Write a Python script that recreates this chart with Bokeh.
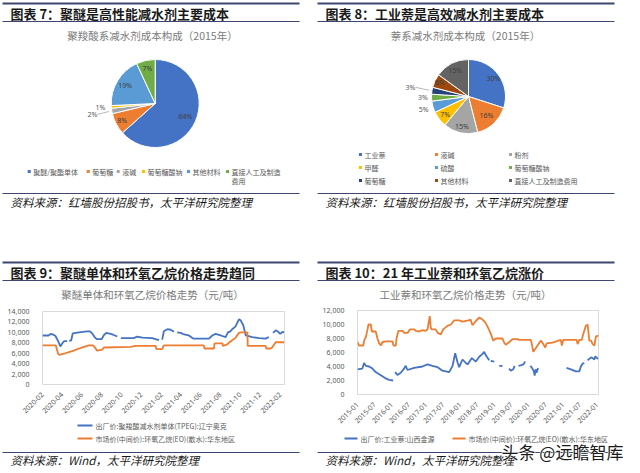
import numpy as np
import pandas as pd
from math import pi
from bokeh.plotting import figure
from bokeh.layouts import column, row
from bokeh.models import (Range1d, FixedTicker, DatetimeTickFormatter,
                          NumeralTickFormatter, ColumnDataSource)
from bokeh.core.properties import value
from bokeh.embed import file_html
from bokeh.resources import INLINE

# ---------------- data ----------------
q1_title = "图表 7：聚醚是高性能减水剂主要成本"
q1_chart_title = "聚羧酸系减水剂成本构成（2015年）"
q1_labels = ["聚醚/聚酯单体", "葡萄糖", "液碱", "葡萄糖酸钠", "其他材料", "直接人工及制造费用"]
q1_values = [64, 8, 2, 1, 19, 7]

q2_title = "图表 8：工业萘是高效减水剂主要成本"
q2_chart_title = "萘系减水剂成本构成（2015年）"
q2_labels = ["工业萘", "液碱", "粉剂", "甲醛", "硫酸", "葡萄糖酸钠", "葡萄糖", "其他材料", "直接人工及制造费用"]
q2_values = [30, 16, 15, 7, 5, 3, 3, 6, 15]

q3_title = "图表 9：聚醚单体和环氧乙烷价格走势趋同"
q3_chart_title = "聚醚单体和环氧乙烷价格走势（元/吨）"
q3_series_names = ["出厂价:聚羧酸减水剂单体(TPEG):辽宁奥克", "市场价(中间价):环氧乙烷(EO)(散水):华东地区"]
q3_tpeg_dates = ["2020-02-01", "2020-02-20", "2020-02-26", "2020-03-07", "2020-03-12", "2020-03-20",
                 "2020-03-27", "2020-04-01", "2020-04-07", "2020-04-17", "2020-04-20", "2020-04-23",
                 "2020-04-29", "2020-05-04", "2020-05-23", "2020-06-17", "2020-06-25", "2020-07-03",
                 "2020-07-11", "2020-07-18", "2020-08-01", "2020-08-08", "2020-08-15", "2020-08-28",
                 "2020-09-07", "2020-09-18", "2020-09-24", "2020-09-29", "2020-11-08", "2020-11-18",
                 "2020-12-04", "2021-01-03", "2021-01-24", "2021-01-29", "2021-02-03", "2021-02-08",
                 "2021-02-19", "2021-03-01", "2021-03-11", "2021-03-16", "2021-03-21", "2021-04-01",
                 "2021-04-11", "2021-04-26", "2021-05-07", "2021-05-12", "2021-06-27", "2021-07-07",
                 "2021-07-17", "2021-08-02", "2021-08-17", "2021-08-24", "2021-09-01", "2021-09-06",
                 "2021-09-16", "2021-09-27", "2021-10-02", "2021-10-10", "2021-10-16", "2021-10-18",
                 "2021-11-07", "2021-11-28", "2021-12-18", "2021-12-28", "2022-01-03", "2022-01-10",
                 "2022-01-18", "2022-01-26", "2022-02-01", "2022-02-08", "2022-02-13"]
q3_tpeg_values = [9400, 9400, 9700, 9500, 9300, 8300,
                  7300, 7800, 8300, 8300, None, 8400,
                  8400, 9800, 10000, 10200, 10200, 9800,
                  9000, 8700, 8700, 9500, 9900, 9700,
                  9500, 9200, None, 8900, 8900, 9200,
                  9000, 8900, 8500, None, 8600, 10200,
                  10600, 10500, 10100, None, 10000, 9900,
                  9600, 9400, 8900, 8800, 8800, 9400,
                  9700, 9400, 9100, 10000, 10200, 10600,
                  11100, 12500, 12300, 11400, 9900, 9400,
                  9100, 8900, 8800, 9100, None, 9900,
                  10400, 10100, 9700, 10100, 10000]
q3_eo_dates = ["2020-02-01", "2020-03-13", "2020-03-20", "2020-03-24", "2020-04-07", "2020-04-22",
               "2020-05-07", "2020-05-23", "2020-06-07", "2020-06-23", "2020-07-05", "2020-07-11",
               "2020-07-18", "2020-08-03", "2020-08-08", "2020-10-29", "2020-11-13", "2021-01-14",
               "2021-01-16", "2021-02-03", "2021-02-08", "2021-06-11", "2021-06-13", "2021-07-12",
               "2021-07-14", "2021-08-07", "2021-08-09", "2021-08-22", "2021-08-27", "2021-09-06",
               "2021-09-16", "2021-09-27", "2021-10-02", "2021-10-23", "2021-10-24", "2021-12-18",
               "2021-12-20", "2022-01-02", "2022-01-07", "2022-01-18", "2022-02-13"]
q3_eo_values = [7500, 7500, 5900, 5700, 5900, 6200,
                6500, 6900, 7200, 7500, 7500, 7100,
                6500, 6700, 7100, 7200, 7400, 7400,
                6800, 6800, 7500, 7500, 6900, 6900,
                7900, 7900, 7400, 7700, 8000, 8500,
                8900, 9900, 10000, 10000, 7400, 7400,
                6900, 6900, 7100, 8100, 8100]
q3_x_range = ["2020-02-01", "2022-02-14"]
q3_x_ticks = ["2020-02", "2020-04", "2020-06", "2020-08", "2020-10", "2020-12", "2021-02",
              "2021-04", "2021-06", "2021-08", "2021-10", "2021-12", "2022-02"]
q3_y_ticks = [0, 2000, 4000, 6000, 8000, 10000, 12000, 14000]

q4_title = "图表 10：21 年工业萘和环氧乙烷涨价"
q4_chart_title = "工业萘和环氧乙烷价格走势（元/吨）"
q4_series_names = ["出厂价:工业萘:山西金源", "市场价(中间价):环氧乙烷(EO)(散水):华东地区"]
q4_nap_dates = ["2015-01-01", "2015-02-22", "2015-03-12", "2015-03-30", "2015-05-05", "2015-06-09",
                "2015-07-14", "2015-08-20", "2015-09-24", "2015-10-29", "2015-12-04", "2016-01-16",
                "2016-01-28", "2016-02-06", "2016-03-02", "2016-04-06", "2016-05-12", "2016-05-29",
                "2016-06-17", "2016-08-27", "2016-11-24", "2017-01-16", "2017-03-10", "2017-05-04",
                "2017-06-26", "2017-09-05", "2017-10-11", "2017-11-08", "2017-12-03", "2017-12-21",
                "2018-01-25", "2018-03-02", "2018-03-20", "2018-05-05", "2018-06-16", "2018-07-23",
                "2018-08-27", "2018-09-14", "2018-10-01", "2018-11-06", "2018-11-15", "2018-11-22",
                "2018-12-30", "2019-01-15", "2019-02-21", "2019-03-28", "2019-04-20", "2019-06-05",
                "2019-06-25", "2019-07-20", "2019-08-05", "2019-08-25", "2019-09-15", "2019-10-15",
                "2019-11-05", "2019-11-25", "2019-12-20", "2020-01-20", "2020-02-10", "2020-02-25",
                "2020-03-05", "2020-03-15", "2020-03-25", "2020-04-10", "2020-04-20", "2021-02-08",
                "2021-03-26", "2021-05-19", "2021-06-24", "2021-07-11", "2021-07-29", "2021-08-16",
                "2021-09-01", "2021-09-21", "2021-10-27", "2021-11-14", "2021-12-02", "2021-12-12",
                "2021-12-30", "2022-01-14"]
q4_nap_values = [3600, 3700, 4500, 4100, 4000, 3700,
                 3200, 2900, 2600, 2300, 2100, 2000,
                 None, 3200, 2800, 3100, 3700, 4100,
                 3500, 3800, 4000, 4300, 4100, 3900,
                 3400, 3200, 4100, 5900, 4600, 3900,
                 5000, 4500, 4300, 5200, 4700, 5400,
                 5800, 6100, 5600, 4900, None, 4800,
                 4700, None, 4100, 4100, None, 3700,
                 3400, 3600, 4100, None, 4100, 4200,
                 4300, 4700, None, 4100, 3700, 3300,
                 2700, 3600, 3100, 3800, None, 3800,
                 3600, 3300, 3300, 4000, 4400, 4500,
                 None, 4900, 5300, 5200, 5000, 5450,
                 5200, 5100]
q4_eo_dates = ["2015-01-01", "2015-01-17", "2015-03-03", "2015-03-13", "2015-03-31", "2015-04-18",
               "2015-04-28", "2015-05-23", "2015-06-03", "2015-07-15", "2015-08-02", "2015-08-21",
               "2015-09-07", "2015-09-25", "2015-10-30", "2016-01-09", "2016-01-20", "2016-02-14",
               "2016-02-21", "2016-03-13", "2016-04-25", "2016-05-13", "2016-06-18", "2016-07-12",
               "2016-08-28", "2016-09-14", "2016-10-20", "2016-11-25", "2016-12-30", "2017-01-17",
               "2017-01-28", "2017-02-10", "2017-02-21", "2017-03-04", "2017-04-15", "2017-05-04",
               "2017-06-08", "2017-07-03", "2017-08-18", "2017-09-23", "2017-10-29", "2017-12-21",
               "2018-01-25", "2018-03-30", "2018-04-21", "2018-05-12", "2018-06-16", "2018-07-23",
               "2018-08-27", "2018-09-25", "2018-10-19", "2018-11-06", "2018-12-04", "2018-12-19",
               "2019-01-16", "2019-03-28", "2019-04-15", "2019-05-02", "2019-06-08", "2019-07-13",
               "2019-09-04", "2019-09-22", "2020-01-24", "2020-02-04", "2020-02-19", "2020-03-11",
               "2020-04-05", "2020-05-10", "2020-06-05", "2020-06-26", "2020-07-10", "2020-09-12",
               "2020-12-09", "2020-12-20", "2021-01-04", "2021-05-27", "2021-06-06", "2021-06-24",
               "2021-07-22", "2021-07-29", "2021-08-16", "2021-09-02", "2021-09-21", "2021-10-09",
               "2021-10-27", "2021-11-14", "2021-12-02", "2021-12-19", "2022-01-14"]
q4_eo_values = [7500, 7000, 7000, 7700, 8200, 9300,
                10000, 10000, 9000, 9000, 8000, 7300,
                7000, 7500, 7600, 7600, 7000, 7000,
                8000, 9100, 9100, 8800, 8800, 9300,
                9300, 9100, 9000, 9200, 9100, 9300,
                10200, 11200, 9500, 9300, 9300, 8800,
                8600, 9300, 9800, 10000, 10600, 10600,
                10400, 10600, 10700, 9900, 10500, 11000,
                10700, 10300, 9700, 9200, 8300, 7700,
                8000, 8000, 7400, 7100, 7500, 7900,
                7900, 7800, 7800, 7200, 6100, 6500,
                7000, 7700, 7200, 6700, 7300, 7400,
                7800, 7000, 7800, 7800, 7200, 7800,
                7800, 8300, 9100, 9800, 10000, 7700,
                7700, 7200, 7000, 8300, 8400]
q4_x_range = ["2015-01-01", "2022-01-15"]
q4_x_ticks = ["2015-01", "2015-07", "2016-01", "2016-07", "2017-01", "2017-07", "2018-01",
              "2018-07", "2019-01", "2019-07", "2020-01", "2020-07", "2021-01", "2021-07", "2022-01"]
q4_y_ticks = [0, 2000, 4000, 6000, 8000, 10000, 12000]

source_1 = "资料来源：红墙股份招股书，太平洋研究院整理"
source_2 = "资料来源：Wind，太平洋研究院整理"
watermark = "头条 @远瞻智库"

# ---------------- styles ----------------
CJK = "Noto Sans CJK SC"
NUM = "Noto Sans"
LINE = "#3d4670"
GRAY = "#595959"
office = ["#4472C4", "#ED7D31", "#A5A5A5", "#FFC000", "#5B9BD5", "#70AD47",
          "#264478", "#9E480E", "#636363"]
q1_colors = office[:6]
q2_colors = office[:9]
q1_label_f = [0.75, 0.85, 1.45, 1.25, 0.8, 0.82]
q2_label_f = [0.83, 0.71, 0.83, 0.8, 1.26, 1.23, 1.59, 0.86, 0.8]


def decor(w, h):
    p = figure(width=w, height=h, x_range=Range1d(0, w), y_range=Range1d(0, h),
               x_axis_location=None, y_axis_location=None, toolbar_location=None,
               output_backend="svg", min_border=0)
    p.frame_align = False
    p.grid.visible = False
    p.outline_line_color = None
    p.background_fill_color = "white"
    p.border_fill_color = "white"
    return p


def draw_header(p, x0, x1, y_top, y_title, y_line2, tx, title, ct_x, y_ct, chart_title):
    p.segment(x0=[x0], y0=[y_top], x1=[x1], y1=[y_top], line_color=LINE, line_width=2)
    p.text(x=[tx], y=[y_title], text=[title], text_font=value(CJK), text_font_size="13px",
           text_font_style="bold", text_color="#1a1a1a", text_baseline="middle", text_align="left")
    p.segment(x0=[x0], y0=[y_line2], x1=[x1], y1=[y_line2], line_color=LINE, line_width=1)
    p.text(x=[ct_x], y=[y_ct], text=[chart_title], text_font=value(CJK), text_font_size="10.5px",
           text_color="#7a7a7a", text_baseline="middle", text_align="center")


def draw_source(p, x0, x1, y_line, tx, y_text, src):
    p.segment(x0=[x0], y0=[y_line], x1=[x1], y1=[y_line], line_color=LINE, line_width=1)
    p.text(x=[tx], y=[y_text], text=[src], text_font=value(CJK), text_font_size="11.5px",
           text_font_style="italic", text_color="#1a1a1a", text_baseline="middle", text_align="left")


def draw_pie(p, values, colors, cx, cy, r, label_f, leaders):
    vals = np.array(values, dtype=float)
    n = len(vals)
    cum = np.concatenate([[0.0], np.cumsum(vals)])
    start = pi / 2 - 2 * pi * cum[:-1] / cum[-1]
    end = pi / 2 - 2 * pi * cum[1:] / cum[-1]
    src = ColumnDataSource(dict(x=[cx] * n, y=[cy] * n, start=start, end=end, color=colors))
    p.wedge(x="x", y="y", radius=r, radius_units="screen", start_angle="start", end_angle="end",
            direction="clock", fill_color="color", line_color="white", line_width=1, source=src)
    mid = (start + end) / 2
    f = np.array(label_f)
    lx = cx + f * r * np.cos(mid)
    ly = cy + f * r * np.sin(mid)
    texts = [f"{int(v)}%" for v in values]
    tcol = ["#404040" if ff < 1 else GRAY for ff in f]
    p.text(x=lx, y=ly, text=texts, text_font=value(NUM), text_font_size="7px",
           text_color=tcol, text_align="center", text_baseline="middle")
    for i in leaders:
        p.segment(x0=[lx[i] + 5], y0=[ly[i]], x1=[cx + (r + 3) * np.cos(mid[i])],
                  y1=[cy + (r + 3) * np.sin(mid[i])], line_color="#a6a6a6", line_width=0.8)


def legend_items(p, xs, ys, labels, colors, wrap=None):
    p.scatter(x=xs, y=ys, marker="square", size=3, fill_color=colors, line_color=None)
    for x, y, lab in zip(xs, ys, labels):
        lines = [lab] if (wrap is None or len(lab) <= wrap) else [lab[:wrap], lab[wrap:]]
        for k, t in enumerate(lines):
            p.text(x=[x + 4], y=[y - 9 * k], text=[t], text_font=value(CJK), text_font_size="7px",
                   text_color=GRAY, text_baseline="middle", text_align="left")


def ms(s):
    return pd.Timestamp(s).timestamp() * 1000


def line_chart(w, h, borders, x_range, x_ticks, y_ticks, series):
    p = figure(width=w, height=h, x_axis_type="datetime",
               x_range=Range1d(ms(x_range[0]), ms(x_range[1])),
               y_range=Range1d(0, y_ticks[-1]), toolbar_location=None, output_backend="svg",
               min_border_left=borders[0], min_border_right=borders[1],
               min_border_top=borders[2], min_border_bottom=borders[3])
    p.frame_align = False
    for dates, vals, color in series:
        p.line(x=pd.to_datetime(dates), y=np.array(vals, dtype=float), line_color=color,
               line_width=1.8)
    p.grid.visible = False
    p.outline_line_color = "#d9d9d9"
    p.background_fill_color = "white"
    p.border_fill_color = "white"
    p.xaxis.ticker = FixedTicker(ticks=[ms(t + "-01") for t in x_ticks])
    p.xaxis.formatter = DatetimeTickFormatter(days="%Y-%m", months="%Y-%m", years="%Y-%m")
    p.xaxis.major_label_orientation = pi / 4
    p.yaxis.ticker = FixedTicker(ticks=y_ticks)
    p.yaxis.formatter = NumeralTickFormatter(format="0,0")
    for ax in (p.xaxis, p.yaxis):
        ax.axis_line_color = None
        ax.major_tick_line_color = None
        ax.minor_tick_line_color = None
        ax.major_label_text_font = NUM
        ax.major_label_text_font_size = "7px"
        ax.major_label_text_color = GRAY
    p.xaxis.major_label_standoff = 3
    p.yaxis.major_label_standoff = 7
    return p


# ---------------- Q1 ----------------
q1 = decor(312, 258)
draw_header(q1, 2, 299, 255, 245, 237, 10, q1_title, 152, 223, q1_chart_title)
draw_pie(q1, q1_values, q1_colors, 154.7, 155, 44, q1_label_f, [2])
legend_items(q1, [28.7, 87.7, 117.7, 143, 188, 227], [87] * 6, q1_labels, q1_colors, wrap=7)
draw_source(q1, 2, 299, 65, 10, 57, source_1)

# ---------------- Q2 ----------------
q2 = decor(312, 258)
draw_header(q2, 5, 302, 255, 245, 237, 13, q2_title, 153, 223, q2_chart_title)
draw_pie(q2, q2_values, q2_colors, 156, 162, 37, q2_label_f, [6])
lx2 = [48, 124, 198] * 3
ly2 = [104] * 3 + [91] * 3 + [78] * 3
legend_items(q2, lx2, ly2, q2_labels, q2_colors)
draw_source(q2, 5, 302, 65, 13, 57, source_1)

# ---------------- Q3 ----------------
q3h = decor(312, 47)
draw_header(q3h, 2, 299, 43, 33, 25, 10, q3_title, 152, 11, q3_chart_title)
q3c = line_chart(312, 113, (42, 28, 6, 31), q3_x_range, q3_x_ticks, q3_y_ticks,
                 [(q3_tpeg_dates, q3_tpeg_values, office[0]), (q3_eo_dates, q3_eo_values, office[1])])
q3f = decor(312, 48)
for yy, name, col in zip([41, 28], q3_series_names, [office[0], office[1]]):
    q3f.segment(x0=[77], y0=[yy], x1=[92], y1=[yy], line_color=col, line_width=2)
    q3f.text(x=[95], y=[yy], text=[name], text_font=value(CJK), text_font_size="7px",
             text_color=GRAY, text_baseline="middle", text_align="left")
draw_source(q3f, 2, 299, 14, 10, 7, source_2)

# ---------------- Q4 ----------------
q4h = decor(312, 47)
draw_header(q4h, 5, 302, 43, 33, 25, 13, q4_title, 153, 11, q4_chart_title)
q4c = line_chart(312, 123, (45, 26, 5, 29), q4_x_range, q4_x_ticks, q4_y_ticks,
                 [(q4_nap_dates, q4_nap_values, office[0]), (q4_eo_dates, q4_eo_values, office[1])])
q4f = decor(312, 38)
for x0, name, col in zip([32, 140], q4_series_names, [office[0], office[1]]):
    q4f.segment(x0=[x0], y0=[28], x1=[x0 + 13], y1=[28], line_color=col, line_width=2)
    q4f.text(x=[x0 + 16], y=[28], text=[name], text_font=value(CJK), text_font_size="7px",
             text_color=GRAY, text_baseline="middle", text_align="left")
draw_source(q4f, 5, 302, 14, 13, 7, source_2)
q4f.text(x=[189], y=[15], text=[watermark], text_font=value(CJK), text_font_size="17px",
         text_color="white", text_outline_color="white", text_baseline="middle", text_align="left")
q4f.text(x=[189], y=[15], text=[watermark], text_font=value(CJK), text_font_size="17px",
         text_color="#1a1a1a", text_baseline="middle", text_align="left")

layout = column(row(q1, q2), row(column(q3h, q3c, q3f), column(q4h, q4c, q4f)))
open("out.html", "w").write(file_html(layout, INLINE))
